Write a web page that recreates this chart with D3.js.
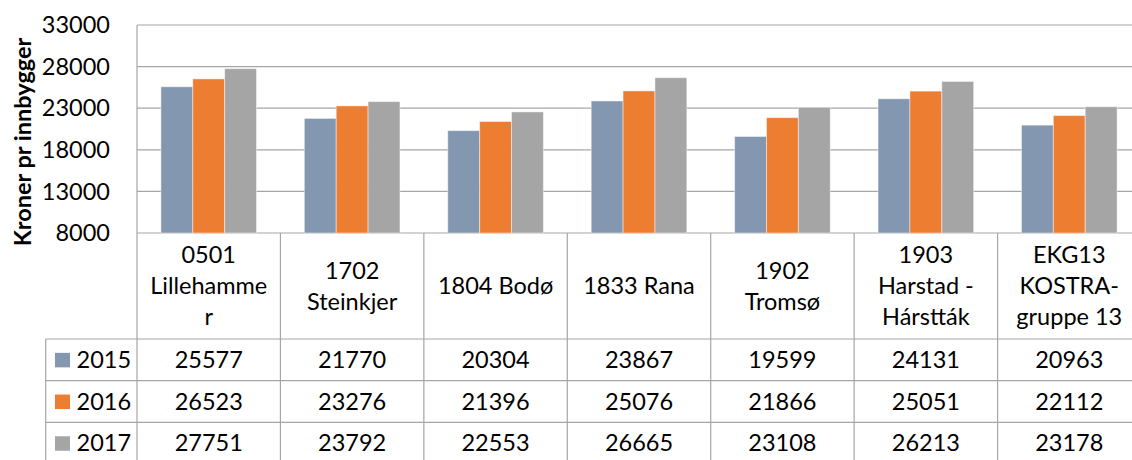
<!DOCTYPE html>
<html>
<head>
<meta charset="utf-8">
<script src="https://cdn.jsdelivr.net/npm/d3@7"></script>
<style>
  html, body { margin: 0; padding: 0; background: #fff; }
  svg { display: block; font-family: Lato, 'Open Sans', sans-serif; }
</style>
</head>
<body>
<svg id="chart" width="1132" height="460"></svg>
<script>
// Data
const categories = ['0501 Lillehammer', '1702 Steinkjer', '1804 Bodø', '1833 Rana', '1902 Tromsø', '1903 Harstad - Hárstták', 'EKG13 KOSTRA-gruppe 13'];
// category labels as they wrap in the table header
const categoryLines = [
  ['0501', 'Lillehamme', 'r'],
  ['1702', 'Steinkjer'],
  ['1804 Bodø'],
  ['1833 Rana'],
  ['1902', 'Tromsø'],
  ['1903', 'Harstad -', 'Hárstták'],
  ['EKG13', 'KOSTRA-', 'gruppe 13']
];
const years = ['2015', '2016', '2017'];
const values2015 = [25577, 21770, 20304, 23867, 19599, 24131, 20963];
const values2016 = [26523, 23276, 21396, 25076, 21866, 25051, 22112];
const values2017 = [27751, 23792, 22553, 26665, 23108, 26213, 23178];
const yTicks = [8000, 13000, 18000, 23000, 28000, 33000];
const yTitle = 'Kroner pr innbygger';

const series = [values2015, values2016, values2017];
const colors = d3.scaleOrdinal().domain(years).range(['#8497B0', '#ED7D31', '#A5A5A5']);

// Layout
const config = {
  plot: { left: 137, right: 1141, top: 25, bottom: 233 },
  table: { headerBottom: 339, rowHeight: 41.7, legendLeft: 45.7 },
  fontSize: 23.5,
  lineHeight: 31,
  gridColor: '#A6A6A6'
};
const p = config.plot;
const t = config.table;

const svg = d3.select('#chart');

const x0 = d3.scaleBand().domain(categories).range([p.left, p.right]).padding(0);
const x1 = d3.scaleBand().domain(years).range([0, x0.bandwidth()]).paddingInner(0).paddingOuter(0.75);
const y = d3.scaleLinear().domain([8000, 33000]).range([p.bottom, p.top]);

// Gridlines
svg.append('g')
  .selectAll('line')
  .data(yTicks)
  .join('line')
  .attr('x1', p.left)
  .attr('x2', p.right)
  .attr('y1', d => y(d))
  .attr('y2', d => y(d))
  .attr('stroke', config.gridColor)
  .attr('stroke-width', 1.2);

// Y tick labels
svg.append('g')
  .selectAll('text')
  .data(yTicks)
  .join('text')
  .attr('x', 110)
  .attr('y', d => y(d))
  .attr('dy', '0.35em')
  .attr('text-anchor', 'end')
  .style('font-size', config.fontSize + 'px')
  .attr('fill', '#000')
  .text(d => d);

// Y title
svg.append('text')
  .attr('transform', `translate(31, 142) rotate(-90)`)
  .attr('text-anchor', 'middle')
  .style('font-size', '23.5px')
  .style('font-weight', 'bold')
  .text(yTitle);

// Bars
const groups = svg.append('g')
  .selectAll('g')
  .data(categories)
  .join('g')
  .attr('transform', d => `translate(${x0(d)},0)`);

groups.selectAll('rect')
  .data((d, i) => years.map((yr, k) => ({ year: yr, value: series[k][i] })))
  .join('rect')
  .attr('x', d => x1(d.year))
  .attr('width', x1.bandwidth())
  .attr('y', d => y(d.value))
  .attr('height', d => y(8000) - y(d.value))
  .attr('fill', d => colors(d.year))
  .attr('stroke', 'rgba(255,255,255,0.45)')
  .attr('stroke-width', 1);

// Table lines
const tableBottom = t.headerBottom + years.length * t.rowHeight;
const tg = svg.append('g').attr('stroke', config.gridColor).attr('stroke-width', 1.2);

// plot left border + category column separators
const vx = [p.left].concat(categories.map(c => x0(c) + x0.bandwidth()));
tg.selectAll('line.v')
  .data(vx)
  .join('line')
  .attr('class', 'v')
  .attr('x1', d => d).attr('x2', d => d)
  .attr('y1', (d, i) => i === 0 ? p.top : p.bottom)
  .attr('y2', tableBottom);

// legend column left border
tg.append('line')
  .attr('x1', t.legendLeft).attr('x2', t.legendLeft)
  .attr('y1', t.headerBottom).attr('y2', tableBottom);

// row lines
const rowYs = [t.headerBottom].concat(years.map((yr, i) => t.headerBottom + (i + 1) * t.rowHeight));
tg.selectAll('line.h')
  .data(rowYs)
  .join('line')
  .attr('class', 'h')
  .attr('x1', t.legendLeft).attr('x2', p.right)
  .attr('y1', d => d).attr('y2', d => d);

// Header labels
const headerMid = (p.bottom + t.headerBottom) / 2;
svg.append('g')
  .selectAll('text')
  .data(categories)
  .join('text')
  .attr('text-anchor', 'middle')
  .style('font-size', config.fontSize + 'px')
  .each(function (d, i) {
    const lines = categoryLines[i];
    const start = headerMid - (lines.length - 1) * config.lineHeight / 2;
    d3.select(this).selectAll('tspan')
      .data(lines)
      .join('tspan')
      .attr('x', x0(d) + x0.bandwidth() / 2)
      .attr('y', (l, j) => start + j * config.lineHeight)
      .attr('dy', '0.35em')
      .text(l => l);
  });

// Data rows
years.forEach((yr, k) => {
  const rowMid = t.headerBottom + (k + 0.5) * t.rowHeight;
  const row = svg.append('g');
  row.append('rect')
    .attr('x', 55)
    .attr('y', rowMid - 7)
    .attr('width', 15)
    .attr('height', 14.5)
    .attr('fill', colors(yr));
  row.append('text')
    .attr('x', 76.5)
    .attr('y', rowMid)
    .attr('dy', '0.35em')
    .style('font-size', config.fontSize + 'px')
    .text(yr);
  row.selectAll('text.val')
    .data(series[k])
    .join('text')
    .attr('class', 'val')
    .attr('x', (v, i) => x0(categories[i]) + x0.bandwidth() / 2)
    .attr('y', rowMid)
    .attr('dy', '0.35em')
    .attr('text-anchor', 'middle')
    .style('font-size', config.fontSize + 'px')
    .text(v => v);
});
</script>
</body>
</html>
